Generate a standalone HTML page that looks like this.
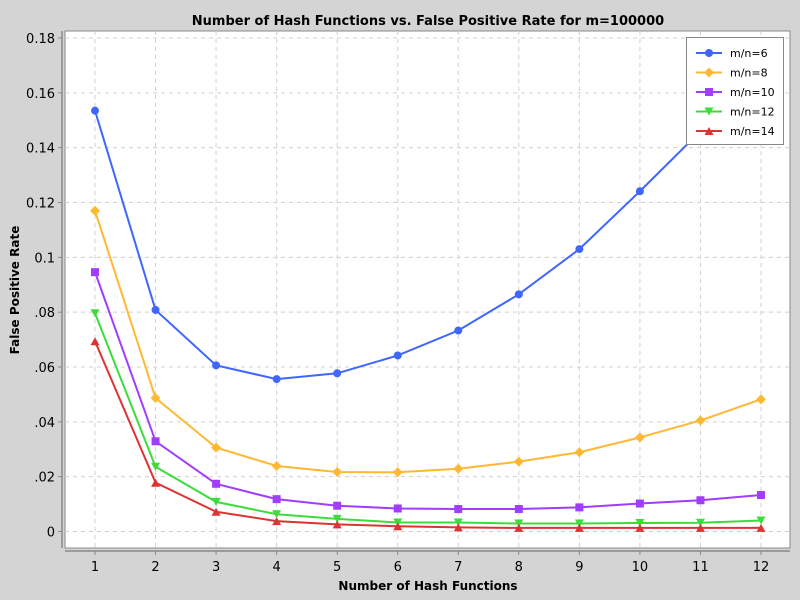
<!DOCTYPE html>
<html><head><meta charset="utf-8"><style>
body{margin:0;background:#d4d4d4;}
svg{display:block;font-family:"DejaVu Sans","Liberation Sans",sans-serif;}
</style></head><body>
<svg id="chart" width="800" height="600">
<rect width="800" height="600" fill="#d4d4d4"/>
<text x="428" y="25" text-anchor="middle" font-size="13" font-weight="bold">Number of Hash Functions vs. False Positive Rate for m=100000</text>
<rect x="65" y="31" width="725" height="517" fill="#fff" stroke="#888"/>
<g id="grid"></g><g id="axes"></g><g id="series"></g>
<text x="428" y="590" text-anchor="middle" font-size="12" font-weight="bold">Number of Hash Functions</text>
<text transform="translate(19,290) rotate(-90)" text-anchor="middle" font-size="12" font-weight="bold">False Positive Rate</text>
<g id="legend"></g>
</svg>
<script>
const categories=[1,2,3,4,5,6,7,8,9,10,11,12];
const yTicks=[0,0.02,0.04,0.06,0.08,0.1,0.12,0.14,0.16,0.18];
const yTickLabels=["0",".02",".04",".06",".08","0.1","0.12","0.14","0.16","0.18"];
const seriesNames=["m/n=6","m/n=8","m/n=10","m/n=12","m/n=14"];
const s6=[0.1535,0.0808,0.0606,0.0556,0.0577,0.0642,0.0733,0.0865,0.1030,0.1241,0.146,0.175];
const s8=[0.117,0.0487,0.0306,0.0239,0.0217,0.0216,0.0229,0.0255,0.0289,0.0343,0.0405,0.0482];
const s10=[0.0946,0.0329,0.0174,0.0118,0.0094,0.0084,0.0082,0.0082,0.0088,0.0102,0.0114,0.0133];
const s12=[0.0796,0.0236,0.0108,0.0063,0.0046,0.0033,0.0033,0.0029,0.0029,0.0031,0.0032,0.0040];
const s14=[0.0694,0.0178,0.0072,0.0038,0.0026,0.0019,0.0015,0.0013,0.0013,0.0013,0.0013,0.0013];
const colors=["#3f66ff","#ffb833","#a13dff","#3ddc3d","#dd3333"];
const shapes=["circle","diamond","square","down","up"];
const NS="http://www.w3.org/2000/svg";
const X=k=>95+(k-1)*60.545;
const Y=v=>531.5-v*(493.5/0.18);
function mk(t,a,p){const e=document.createElementNS(NS,t);for(const k in a)e.setAttribute(k,a[k]);(p||document.getElementById('chart')).appendChild(e);return e;}
const grid=document.getElementById('grid'),axes=document.getElementById('axes'),ser=document.getElementById('series');
yTicks.forEach((v,i)=>{
 const g=mk('line',{x1:65,x2:790,y1:Y(v),y2:Y(v),stroke:'#d0d0d0','stroke-dasharray':'4,4'},grid);
 
 mk('line',{x1:58,x2:62,y1:Y(v),y2:Y(v),stroke:'#888'},axes);
 const t=mk('text',{x:55,y:Y(v)+5,'text-anchor':'end','font-size':13},axes);t.textContent=yTickLabels[i];
 
});
categories.forEach(k=>{
 const g=mk('line',{x1:X(k),x2:X(k),y1:31,y2:548,stroke:'#d0d0d0','stroke-dasharray':'4,4'},grid);
 
 mk('line',{x1:X(k),x2:X(k),y1:551,y2:555,stroke:'#888'},axes);
 const t=mk('text',{x:X(k),y:571,'text-anchor':'middle','font-size':13},axes);t.textContent=k;
 
});
mk('line',{x1:62,x2:62,y1:31,y2:548,stroke:'#888','stroke-width':1.5},axes);
mk('line',{x1:65,x2:790,y1:551,y2:551,stroke:'#888','stroke-width':1.5},axes);
function marker(shape,x,y,c,p){
 if(shape==='circle')return mk('circle',{cx:x,cy:y,r:4,fill:c},p);
 if(shape==='square')return mk('rect',{x:x-4,y:y-4,width:8,height:8,fill:c},p);
 if(shape==='diamond')return mk('polygon',{points:`${x},${y-5} ${x+5},${y} ${x},${y+5} ${x-5},${y}`,fill:c},p);
 if(shape==='down')return mk('polygon',{points:`${x-4.5},${y-4} ${x+4.5},${y-4} ${x},${y+4}`,fill:c},p);
 return mk('polygon',{points:`${x-4.5},${y+4} ${x+4.5},${y+4} ${x},${y-4}`,fill:c},p);
}
[s6,s8,s10,s12,s14].forEach((d,i)=>{
 const g=mk('g',{},ser);
 
 
 mk('polyline',{points:d.map((v,j)=>X(categories[j])+','+Y(v)).join(' '),fill:'none',stroke:colors[i],'stroke-width':2},g);
 d.forEach((v,j)=>{const m=marker(shapes[i],X(categories[j]),Y(v),colors[i],g);
  });
});
const lg=document.getElementById('legend');
mk('rect',{x:686.5,y:37.5,width:97,height:107,fill:'#fff',stroke:'#888'},lg);
seriesNames.forEach((n,i)=>{
 const y=53+i*19.5;
 const e=mk('g',{},lg);
 
 mk('line',{x1:696,x2:722,y1:y,y2:y,stroke:colors[i],'stroke-width':2},e);
 marker(shapes[i],709,y,colors[i],e);
 const t=mk('text',{x:730,y:y+4,'font-size':11},e);t.textContent=n;
});
</script>
</body></html>
